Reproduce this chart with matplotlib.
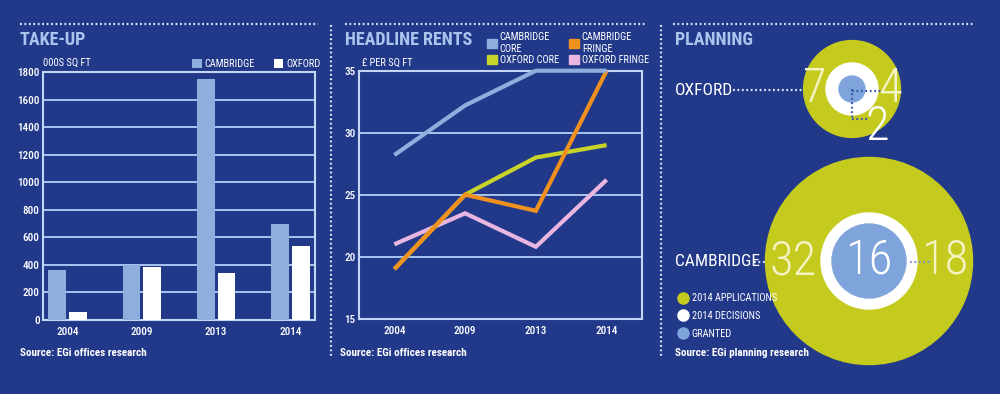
import matplotlib
matplotlib.use('Agg')
import matplotlib.pyplot as plt
from matplotlib import font_manager
from matplotlib.patches import Circle, Patch
from matplotlib.lines import Line2D
import numpy as np

# take-up, 000s sq ft
years = ['2004', '2009', '2013', '2014']
takeup_cambridge = [360, 400, 1750, 700]
takeup_oxford = [55, 383, 340, 535]

# headline rents, £ per sq ft
rent_cambridge_core = [28.2, 32.2, 35, 35]
rent_cambridge_fringe = [19, 25, 23.7, 35]
rent_oxford_core = [19, 25, 28, 29]
rent_oxford_fringe = [21, 23.5, 20.8, 26.2]

# planning 2014
towns = ['OXFORD', 'CAMBRIDGE']
applications = [7, 32]
decisions = [4, 18]
granted = [2, 16]

BG = '#22398a'
LIGHT = '#a9c5ee'
CAM_BLUE = '#8eaede'
GRID = '#a8c4f0'
FRAME = '#c4d6f4'
YELLOW = '#c5cb1e'
ORANGE = '#f0901e'
PINK = '#e9b6e2'
LIME = '#c8d42a'
GRANT_BLUE = '#7fa4dc'
PALE = '#f3f3c6'

names = {f.name for f in font_manager.fontManager.ttflist}
FONT = 'DejaVu Sans'
for cand in ['Roboto Condensed', 'Liberation Sans Narrow', 'Open Sans Condensed']:
    if cand in names:
        FONT = cand
        break
plt.rcParams['font.family'] = [FONT, 'DejaVu Sans']

fig = plt.figure(figsize=(10, 3.94), dpi=100, facecolor=BG)

# overlay in pixel coords for titles, separators and planning circles
ov = fig.add_axes([0, 0, 1, 1])
ov.set_xlim(0, 1000)
ov.set_ylim(394, 0)
ov.axis('off')

dots = dict(color='#dfe8f8', lw=1.6, linestyle=(0, (0.8, 1.2)))
for x0, x1 in [(20, 318), (345, 645), (673, 975)]:
    ov.plot([x0, x1], [24, 24], **dots)
for xv in [331, 661]:
    ov.plot([xv, xv], [25, 358], **dots)

title_kw = dict(color=LIGHT, fontsize=13, fontweight='bold', va='center', ha='left')
ov.text(20, 40, 'TAKE-UP', **title_kw)
ov.text(345, 40, 'HEADLINE RENTS', **title_kw)
ov.text(675, 40, 'PLANNING', **title_kw)

src_kw = dict(color='white', fontsize=8, fontweight='bold', va='center', ha='left')
ov.text(20, 353, 'Source: EGi offices research', **src_kw)
ov.text(340, 353, 'Source: EGi offices research', **src_kw)
ov.text(675, 353, 'Source: EGi planning research', **src_kw)

ov.text(43, 63, '000S SQ FT', color='white', fontsize=7.5, va='center', ha='left')
ov.text(362, 63, '£ PER SQ FT', color='white', fontsize=7.5, va='center', ha='left')

# ---- take-up bars
ax1 = fig.add_axes([0.043, (394 - 320) / 394, 0.272, 248 / 394])
ax1.set_facecolor('none')
x = np.arange(len(years))
w = 0.24
ax1.bar(x - 0.14, takeup_cambridge, w, color=CAM_BLUE, zorder=3, label='CAMBRIDGE')
ax1.bar(x + 0.14, takeup_oxford, w, color='white', zorder=3, label='OXFORD')
ax1.set_xlim(-0.33, 3.33)
ax1.set_ylim(0, 1800)
ax1.set_yticks(range(0, 1801, 200))
ax1.set_xticks(x)
ax1.set_xticklabels(years)
ax1.grid(axis='y', color=GRID, lw=1.4, zorder=1)
ax1.set_axisbelow(True)
ax1.legend(loc='upper left', bbox_to_anchor=(187 / 1000, 1 - 54 / 394),
           bbox_transform=fig.transFigure, ncol=2, frameon=False,
           handlelength=0.9, handleheight=0.9, handletextpad=0.3,
           columnspacing=1.8, fontsize=7.5, labelcolor='white', borderpad=0)

# ---- headline rents
ax2 = fig.add_axes([0.359, (394 - 318.7) / 394, 0.283, 248 / 394])
ax2.set_facecolor('none')
line_kw = dict(lw=3, solid_capstyle='butt', solid_joinstyle='miter', clip_on=False)
ax2.plot(x, rent_oxford_fringe, color=PINK, zorder=3, label='OXFORD FRINGE', **line_kw)
ax2.plot(x, rent_oxford_core, color=LIME, zorder=4, label='OXFORD CORE', **line_kw)
ax2.plot(x, rent_cambridge_fringe, color=ORANGE, zorder=5, label='CAMBRIDGE\nFRINGE', **line_kw)
ax2.plot(x, rent_cambridge_core, color=CAM_BLUE, zorder=6, label='CAMBRIDGE\nCORE', **line_kw)
ax2.set_xlim(-0.5, 3.5)
ax2.set_ylim(15, 35)
ax2.set_yticks([15, 20, 25, 30, 35])
ax2.set_xticks(x)
ax2.set_xticklabels(years)
ax2.grid(axis='y', color=GRID, lw=1.4, zorder=1)
ax2.set_axisbelow(True)
leg_handles = [Patch(color=CAM_BLUE), Patch(color=LIME), Patch(color=ORANGE), Patch(color=PINK)]
leg_labels = ['CAMBRIDGE\nCORE', 'OXFORD CORE', 'CAMBRIDGE\nFRINGE', 'OXFORD FRINGE']
fig.legend(leg_handles, leg_labels, loc='upper left',
           bbox_to_anchor=(482 / 1000, 1 - 27 / 394), bbox_transform=fig.transFigure,
           ncol=2, frameon=False, handlelength=0.9, handleheight=0.9,
           handletextpad=0.3, columnspacing=1.0, labelspacing=0.15,
           fontsize=7.5, labelcolor='white', borderpad=0)

for ax in (ax1, ax2):
    for s in ax.spines.values():
        s.set_color(FRAME)
        s.set_linewidth(1.5)
    ax.tick_params(length=0, colors='white', labelsize=8, pad=2.5)
    ax.tick_params(axis='x', pad=5)
    for lab in ax.get_xticklabels() + ax.get_yticklabels():
        lab.set_fontweight('medium')

# ---- planning circles
centres = {'OXFORD': (852, 89), 'CAMBRIDGE': (869, 261)}
k = 18.3  # px per sqrt(application)
inner = {'OXFORD': (26, 13), 'CAMBRIDGE': (48, 37)}
NUM = 35
for i, town in enumerate(towns):
    cx, cy = centres[town]
    r_out = k * np.sqrt(applications[i])
    r_dec, r_gr = inner[town]
    ov.add_patch(Circle((cx, cy), r_out, color=YELLOW, zorder=2))
    ov.add_patch(Circle((cx, cy), r_dec, color='white', zorder=3))
    ov.add_patch(Circle((cx, cy), r_gr, color=GRANT_BLUE, zorder=4))
    ov.text(675, cy + 1, town, color='white', fontsize=12.5, va='center', ha='left')

num_kw = dict(fontsize=NUM, fontweight='light', ha='center', va='center', zorder=6)

# oxford labels
cx, cy = centres['OXFORD']
ov.plot([733, 802], [cy + 1, cy + 1], **dots)
ov.text(815, cy, str(applications[0]), color=PALE, **num_kw)
ov.text(890, cy, str(decisions[0]), color=PALE, **num_kw)
ov.text(877, cy + 38, str(granted[0]), color='white', **num_kw)
dark_dots = dict(color='#3a5aa8', lw=1.6, linestyle=(0, (0.8, 1.2)), zorder=5)
ov.plot([cx, cx + 30], [cy + 2, cy + 2], **dark_dots)
ov.plot([cx, cx], [cy, cy + 30], **dark_dots)
ov.plot([cx, cx + 16], [cy + 30, cy + 30], **dark_dots)

# cambridge labels
cx, cy = centres['CAMBRIDGE']
ov.plot([754, 766], [cy + 1, cy + 1], **dots)
ov.text(793, cy, str(applications[1]), color=PALE, **num_kw)
ov.text(870, cy, str(granted[1]), color='white', **num_kw)
ov.text(946, cy, str(decisions[1]), color=PALE, **num_kw)
ov.plot([910, 932], [cy + 1, cy + 1], color='#8090d0', lw=1.6,
        linestyle=(0, (0.8, 1.2)), zorder=5)

# planning legend
plan_handles = [Line2D([], [], marker='o', ls='', ms=8, color=c)
                for c in (YELLOW, 'white', GRANT_BLUE)]
ov.legend(plan_handles, ['2014 APPLICATIONS', '2014 DECISIONS', 'GRANTED'],
          loc='upper left', bbox_to_anchor=(674 / 1000, 1 - 288 / 394),
          bbox_transform=fig.transFigure, frameon=False, handlelength=0.8,
          handletextpad=0.4, labelspacing=0.75, fontsize=7.5,
          labelcolor='white', borderpad=0)

fig.savefig('out.png', dpi=100, facecolor=BG)
